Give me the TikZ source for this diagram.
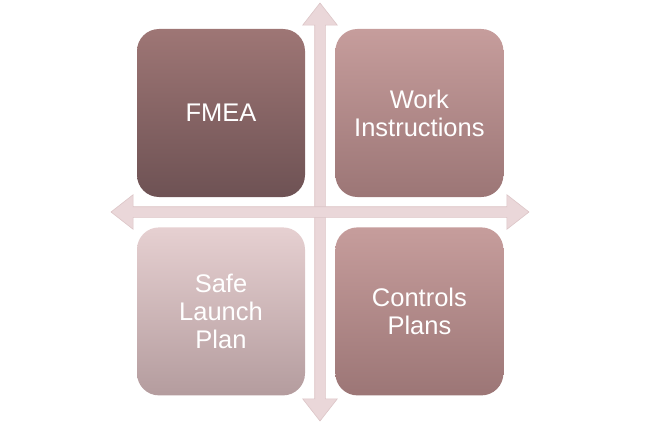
\documentclass[tikz,border=0pt]{standalone}
\usepackage{fontspec}
\setmainfont{Liberation Sans}
\usetikzlibrary{positioning,shapes.arrows}
\definecolor{arrowfill}{HTML}{EAD7D9}
\definecolor{arrowline}{HTML}{DCC5C7}
\tikzset{
  quad/.style      = {shape=rectangle, rounded corners=22pt,
                      minimum size=168pt, align=center, text=white,
                      font=\fontsize{25.5}{28}\selectfont},
  darkquad/.style  = {quad, top color={rgb,255:red,158;green,118;blue,117},
                      bottom color={rgb,255:red,110;green,82;blue,84}},
  midquad/.style   = {quad, top color={rgb,255:red,198;green,157;blue,156},
                      bottom color={rgb,255:red,156;green,118;blue,118}},
  lightquad/.style = {quad, top color={rgb,255:red,230;green,208;blue,209},
                      bottom color={rgb,255:red,180;green,156;blue,158}},
  crossarrow/.style = {shape=double arrow, fill=arrowfill, draw=arrowline,
                      line width=0.6pt, minimum height=418pt,
                      inner sep=5pt, double arrow head extend=12pt,
                      double arrow tip angle=76}
}
\begin{document}
\begin{tikzpicture}[x=1pt,y=-1pt]
  \useasboundingbox (0,0) rectangle (649,428);
  \node [crossarrow, rotate=90] (vaxis) at (320,212) {};
  \node [crossarrow] (haxis) at (320,212) {};
  \node [darkquad] (fmea) at (221,113) {FMEA};
  \node [midquad, right=30pt of fmea] (work) {Work\\Instructions};
  \node [lightquad, below=30pt of fmea] (safe) {Safe\\Launch\\Plan};
  \node [midquad, right=30pt of safe] (controls) {Controls\\Plans};
\end{tikzpicture}
\end{document}
